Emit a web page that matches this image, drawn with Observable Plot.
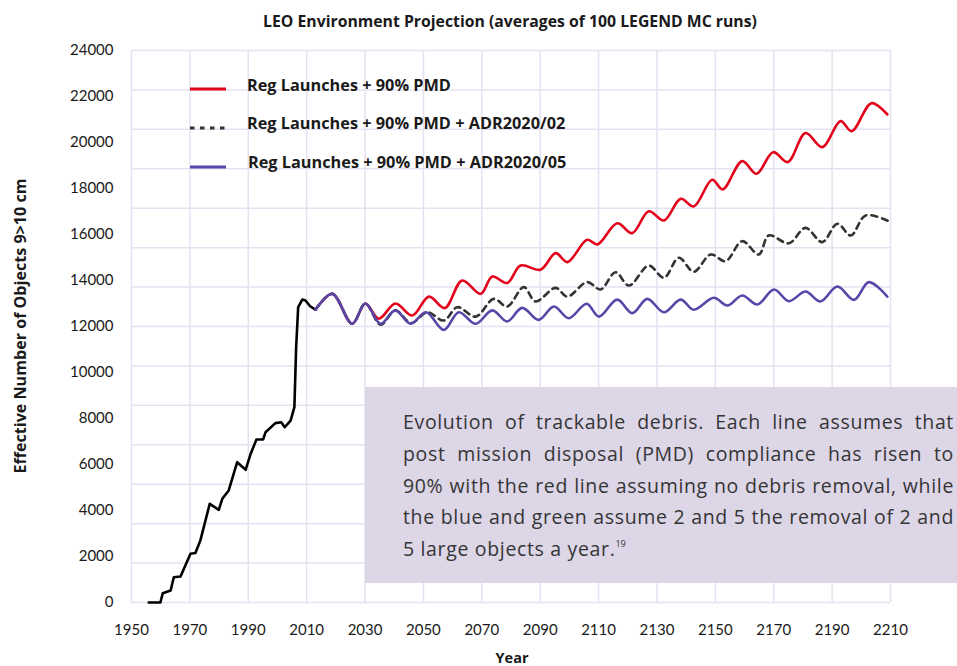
<!DOCTYPE html>
<html><head><meta charset="utf-8">
<script src="https://cdn.jsdelivr.net/npm/d3@7"></script>
<script src="https://cdn.jsdelivr.net/npm/@observablehq/plot@0.6"></script>
<style>
body{margin:0;background:#fff;}
#wrap{position:relative;width:957px;height:666px;overflow:hidden;font-family:Lato,"Open Sans",sans-serif;color:#1a1a1a;}
#wrap svg{position:absolute;left:0;top:0;}
.ov{position:absolute;white-space:nowrap;font-family:"Open Sans",sans-serif;font-weight:700;line-height:1;}
#title{left:510px;top:22px;transform:translate(-50%,-50%);font-size:14px;}
#ylab{left:20px;top:326px;font-size:14px;transform:translate(-50%,-50%) rotate(-90deg);}
#xlab{left:512px;top:657px;font-size:14px;transform:translate(-50%,-50%);}
.leg{position:absolute;font-family:"Open Sans",sans-serif;font-weight:700;font-size:14px;line-height:1;transform:translateY(-50%);white-space:nowrap;}
#box{position:absolute;left:365px;top:387px;width:592px;height:196px;background:#dcd6e7;box-sizing:border-box;padding:19px 3px 0 38px;font-family:"Open Sans",sans-serif;font-size:19.5px;color:#353535;}
.ln{height:31.8px;line-height:31.8px;text-align:justify;text-align-last:justify;white-space:nowrap;}
.ln.last{text-align:left;text-align-last:left;}
sup{font-size:9px;vertical-align:top;position:relative;top:-5px;letter-spacing:0;}
</style>
</head><body>
<div id="wrap"></div>
<script>
// ---- data ----
const histYears  = [1955.9,1959.9,1960.7,1963.4,1964.5,1966.8,1970.2,1971.9,1973.6,1976.8,1979.9,1981.1,1983.3,1986.2,1989.1,1990.8,1992.8,1995.1,1995.9,1999.3,2001.3,2002.5,2004.5,2005.8,2006.4,2007.1,2008.5,2009.6,2011.2,2013];
const histValues = [0,0,400,520,1100,1130,2120,2150,2700,4290,4030,4510,4870,6100,5770,6460,7090,7090,7400,7800,7840,7620,7910,8490,11100,12840,13170,13130,12880,12730];

const redYears  = [2013,2018.8,2025.6,2030.1,2034.7,2040.4,2046.2,2051.9,2057.3,2063.3,2069.6,2073.6,2078.7,2083.3,2090.1,2095.3,2099.3,2106.1,2109.6,2116.4,2121.5,2127.2,2132.4,2138.1,2142.6,2148.9,2152.5,2159.2,2164.1,2169.8,2174.8,2180.9,2186.6,2192.9,2196.7,2203.5,2208.9];
const redValues = [12730,13420,12120,13000,12340,13000,12480,13300,12800,14000,13420,14170,13890,14650,14470,15190,14800,15770,15570,16490,16060,17010,16610,17550,17220,18380,17960,19190,18640,19580,19150,20410,19800,20930,20490,21710,21220];

const adr2Years  = [2013,2018.8,2025.6,2030.1,2035.3,2040.4,2045.8,2051.3,2057,2061.6,2067.9,2074.1,2078.7,2084.4,2088.4,2095.3,2099.3,2106.1,2110.7,2115.8,2120.4,2127.2,2132.4,2137.5,2142.6,2148.4,2153.5,2159.2,2164.9,2168.3,2175.2,2180.9,2186.6,2191.8,2196.4,2201.5,2209.5];
const adr2Values = [12730,13420,12120,13000,12080,12700,12150,12620,12260,12840,12430,13200,12870,13710,13090,13680,13300,13930,13610,14360,13780,14650,14120,14990,14380,15130,14840,15710,15130,15960,15620,16290,15670,16470,15960,16830,16570];

const adr5Years  = [2013,2018.8,2025.6,2030.1,2035.3,2040.4,2045.6,2050.9,2057,2062.1,2067.9,2073.6,2078.7,2083.8,2089.5,2094.7,2099.8,2105.9,2110.1,2116.4,2121.5,2126.7,2132.4,2138.1,2142.6,2149.5,2154.1,2159.2,2164.4,2170.1,2175.2,2180.9,2186,2191.8,2197.5,2202.6,2208.9];
const adr5Values = [12730,13420,12120,13000,12120,12700,12120,12620,11850,12620,12120,12700,12220,12810,12290,12870,12360,12990,12430,13170,12580,13200,12620,13170,12730,13250,12910,13350,12960,13610,13100,13520,13090,13740,13160,13930,13300];

const seriesNames = ["Reg Launches + 90% PMD","Reg Launches + 90% PMD + ADR2020/02","Reg Launches + 90% PMD + ADR2020/05"];
const xTicks = d3.range(1950, 2211, 20);
const yTicks = d3.range(0, 24001, 2000);
const gridYValues = d3.range(0, 15).map(i => i * 24000 / 14);
const titleText = "LEO Environment Projection (averages of 100 LEGEND MC runs)";
const yLabelText = "Effective Number of Objects 9>10 cm";
const xLabelText = "Year";
const noteLines = [
  "Evolution of trackable debris. Each line assumes that",
  "post mission disposal (PMD) compliance has risen to",
  "90% with the red line assuming no debris removal, while",
  "the blue and green assume 2 and 5 the removal of 2 and",
  "5 large objects a year."
];
const noteSup = "19";

// ---- build ----
const zip = (ys, vs) => ys.map((y, i) => ({year: y, value: vs[i]}));
const hist = zip(histYears, histValues);
const red = zip(redYears, redValues);
const adr2 = zip(adr2Years, adr2Values);
const adr5 = zip(adr5Years, adr5Values);

const colors = ["#e2001a", "#333333", "#5a45a8"];
const dashes = [null, "6,5", null];
const gridColor = "#e5e1f1";

const chart = Plot.plot({
  width: 957, height: 666,
  marginLeft: 131, marginRight: 67, marginTop: 50, marginBottom: 64,
  style: {fontFamily: "Lato, sans-serif", fontSize: "15px", color: "#1a1a1a", background: "transparent", overflow: "visible"},
  x: {domain: [1950, 2210], ticks: xTicks, tickFormat: d => String(d), label: null, tickSize: 0, tickPadding: 22},
  y: {domain: [0, 24000], ticks: yTicks, tickFormat: d => String(d), label: null, tickSize: 0, tickPadding: 18},
  marks: [
    Plot.gridY(gridYValues, {stroke: gridColor, strokeOpacity: 1, strokeWidth: 1.5}),
    Plot.gridX(xTicks, {stroke: gridColor, strokeOpacity: 1, strokeWidth: 1.5}),
    Plot.line(hist, {x: "year", y: "value", stroke: "#000", strokeWidth: 2.6, strokeLinejoin: "round"}),
    Plot.line(red, {x: "year", y: "value", stroke: colors[0], strokeWidth: 2.6, curve: "catmull-rom"}),
    Plot.line(adr2, {x: "year", y: "value", stroke: colors[1], strokeWidth: 2.6, curve: "catmull-rom", strokeDasharray: dashes[1]}),
    Plot.line(adr5, {x: "year", y: "value", stroke: colors[2], strokeWidth: 2.6, curve: "catmull-rom"})
  ]
});

const wrap = document.getElementById("wrap");
wrap.appendChild(chart);

function addDiv(id, cls, text) {
  const d = document.createElement("div");
  if (id) d.id = id;
  d.className = cls;
  d.textContent = text;
  wrap.appendChild(d);
  return d;
}
// scale font so the text spans the target width
function fitWidth(el, target) {
  const fs = parseFloat(getComputedStyle(el).fontSize);
  const r = el.getBoundingClientRect();
  const cur = el.id === "ylab" ? r.height : r.width;
  el.style.fontSize = (fs * target / cur).toFixed(2) + "px";
}
const tEl = addDiv("title", "ov", titleText);
const yEl = addDiv("ylab", "ov", yLabelText);
const xEl = addDiv("xlab", "ov", xLabelText);

// legend
const legY = [89, 127.5, 166.5];
const legTextX = [247, 247, 248];
const legEls = [];
seriesNames.forEach((name, i) => {
  const ns = "http://www.w3.org/2000/svg";
  const s = document.createElementNS(ns, "svg");
  s.setAttribute("width", 40); s.setAttribute("height", 8);
  s.style.position = "absolute"; s.style.left = "189px"; s.style.top = (legY[i] - 4) + "px";
  const l = document.createElementNS(ns, "line");
  l.setAttribute("x1", 1); l.setAttribute("x2", 37); l.setAttribute("y1", 4); l.setAttribute("y2", 4);
  l.setAttribute("stroke", colors[i]); l.setAttribute("stroke-width", 2.8);
  if (dashes[i]) l.setAttribute("stroke-dasharray", "4.5,5.5");
  s.appendChild(l);
  wrap.appendChild(s);
  const t = addDiv(null, "leg", name);
  t.style.left = legTextX[i] + "px";
  t.style.top = (legY[i] - 4.5) + "px";
  legEls.push(t);
});

fitWidth(tEl, 494);
fitWidth(yEl, 295);
fitWidth(xEl, 33);
{
  const fs = parseFloat(getComputedStyle(legEls[0]).fontSize);
  const w = legEls[0].getBoundingClientRect().width;
  const nfs = (fs * 204 / w).toFixed(2) + "px";
  legEls.forEach(e => e.style.fontSize = nfs);
}

// annotation box
const box = document.createElement("div");
box.id = "box";
noteLines.forEach((line, i) => {
  const d = document.createElement("div");
  d.className = "ln" + (i === noteLines.length - 1 ? " last" : "");
  d.textContent = line;
  if (i === noteLines.length - 1) {
    const sp = document.createElement("sup");
    sp.textContent = noteSup;
    d.appendChild(sp);
  }
  box.appendChild(d);
});
wrap.appendChild(box);
// small letter spacing so the widest naturally spaced line fills the width
{
  const probe = document.createElement("span");
  probe.style.cssText = "position:absolute;visibility:hidden;white-space:nowrap;font-family:'Open Sans',sans-serif;font-size:19.5px;";
  document.body.appendChild(probe);
  let best = 0, bestLen = 1;
  noteLines.slice(0, 4).forEach(t => {
    probe.textContent = t;
    const w = probe.getBoundingClientRect().width;
    if (w > best) { best = w; bestLen = t.length; }
  });
  probe.remove();
  const avail = 592 - 38 - 3 - 2;
  const ls = (avail - best) / bestLen;
  box.style.letterSpacing = ls.toFixed(2) + "px";
}
</script>
</body></html>
